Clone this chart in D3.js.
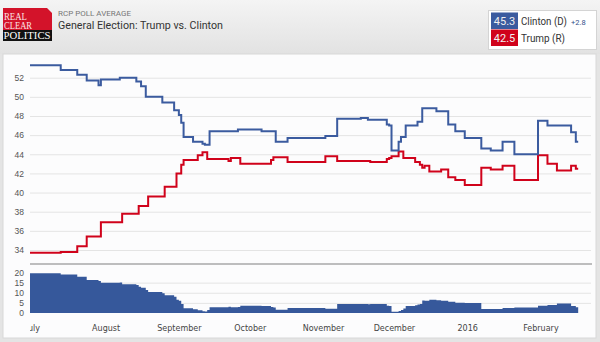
<!DOCTYPE html>
<html>
<head>
<meta charset="utf-8">
<script src="https://cdn.jsdelivr.net/npm/d3@7"></script>
<style>
  body { margin: 0; background: #e4e4e4; }
  svg { display: block; }
</style>
</head>
<body>
<div id="grafico"></div>
<script>
// datos (promedio RCP)
const fechas = ["2015-06-30","2015-07-13","2015-07-20","2015-07-24","2015-07-29","2015-07-30","2015-08-07","2015-08-08",
  "2015-08-14","2015-08-15","2015-08-16","2015-08-18","2015-08-19","2015-08-25","2015-08-26","2015-08-30","2015-08-31",
  "2015-09-01","2015-09-02","2015-09-03","2015-09-07","2015-09-09","2015-09-11","2015-09-12","2015-09-13","2015-09-14",
  "2015-09-22","2015-09-23","2015-09-26","2015-09-27","2015-10-06","2015-10-10","2015-10-11","2015-10-12","2015-10-17",
  "2015-11-02","2015-11-07","2015-11-17","2015-11-20","2015-11-21","2015-11-28","2015-11-29","2015-11-30","2015-12-03",
  "2015-12-04","2015-12-05","2015-12-06","2015-12-10","2015-12-11","2015-12-12","2015-12-13","2015-12-14","2015-12-16",
  "2015-12-19","2015-12-21","2015-12-24","2015-12-27","2015-12-31","2016-01-07","2016-01-11","2016-01-16","2016-01-21",
  "2016-01-31","2016-02-04","2016-02-08","2016-02-14","2016-02-16","2016-02-17"];
const clinton = [53.3,52.8,52.3,51.7,51.2,51.8,52.0,52.0,
  51.6,51.6,51.1,50.0,50.0,49.4,49.4,48.6,48.6,
  48.1,47.3,45.8,45.3,45.3,45.1,45.0,45.0,46.4,
  46.4,46.4,46.6,46.6,46.4,46.4,46.4,45.3,45.7,
  45.9,47.7,47.8,47.6,47.6,47.1,47.0,44.4,45.3,
  45.8,45.8,47.0,47.0,47.4,47.4,48.8,48.8,48.8,
  48.5,48.5,47.1,46.4,45.7,44.6,44.4,45.3,44.0,
  47.5,47.0,47.0,46.3,45.3,45.3];
const trump = [33.7,33.8,34.4,35.4,35.4,36.9,36.9,37.8,
  37.8,38.6,38.6,38.6,39.6,39.6,40.6,40.6,42.0,
  42.0,42.9,43.4,43.4,43.9,44.2,44.2,43.5,43.5,
  43.3,43.6,43.6,43.0,43.0,43.4,43.7,43.7,43.2,
  43.8,43.3,43.3,43.3,43.2,43.5,43.6,43.8,44.3,
  44.3,43.6,43.6,43.2,43.2,42.9,42.6,42.8,42.2,
  42.2,42.4,41.6,41.3,40.8,42.6,42.4,42.8,41.3,
  43.9,43.0,42.3,42.8,42.5,42.5];
const ticksEncuesta = [34,36,38,40,42,44,46,48,50,52];
const ticksMargen = [0,5,10,15,20];
const lineasMargen = [5,10,15];
const mesesFechas = ["2015-07-01","2015-08-01","2015-09-01","2015-10-01","2015-11-01","2015-12-01","2016-01-01","2016-02-01"];
const mesesEtiquetas = ["July","August","September","October","November","December","2016","February"];
const nombres = ["Clinton (D)", "Trump (R)"];

const azul = "#3b5b9f", rojo = "#d0021b";
const parse = d3.timeParse("%Y-%m-%d");
const datos = fechas.map((f, i) => ({ fecha: parse(f), c: clinton[i], t: trump[i] }));

const $svg = d3.select("#grafico").append("svg")
  .attr("width", 600).attr("height", 342)
  .style("font-family", "Roboto, 'Liberation Sans', sans-serif");

const defs = $svg.append("defs");
const grad = defs.append("linearGradient").attr("id", "cabecera")
  .attr("x1", 0).attr("y1", 0).attr("x2", 0).attr("y2", 1);
grad.append("stop").attr("offset", "0%").attr("stop-color", "#f4f4f4");
grad.append("stop").attr("offset", "100%").attr("stop-color", "#e2e2e2");
defs.append("clipPath").attr("id", "recorte").append("rect")
  .attr("x", 30).attr("y", 0).attr("width", 565).attr("height", 342);

// fondo y cabecera
$svg.append("rect").attr("width", 600).attr("height", 342).attr("fill", "#e4e4e4");
$svg.append("rect").attr("width", 600).attr("height", 54).attr("fill", "url(#cabecera)");
$svg.append("rect").attr("x", 3).attr("y", 54).attr("width", 593).attr("height", 284)
  .attr("fill", "#fcfcfd").attr("stroke", "#d8d8d8");

// logo
const logo = $svg.append("g").style("font-family", "'Liberation Serif', 'DejaVu Serif', serif");
logo.append("path").attr("d", "M3,8 H47 L52,13 V30 H3 Z").attr("fill", "#d3132a");
logo.append("rect").attr("x", 3).attr("y", 30).attr("width", 49).attr("height", 11).attr("fill", "#111");
logo.append("text").attr("x", 4).attr("y", 19.5).attr("font-size", 9.5).attr("fill", "#fbe3e5")
  .attr("textLength", 23).attr("lengthAdjust", "spacingAndGlyphs").text("REAL");
logo.append("text").attr("x", 4).attr("y", 28.5).attr("font-size", 9.5).attr("fill", "#fbe3e5")
  .attr("textLength", 28).attr("lengthAdjust", "spacingAndGlyphs").text("CLEAR");
logo.append("text").attr("x", 3.5).attr("y", 39.3).attr("font-size", 10).attr("fill", "#fff")
  .attr("textLength", 47).attr("lengthAdjust", "spacingAndGlyphs").text("POLITICS");

$svg.append("text").attr("x", 58).attr("y", 15.5).attr("font-size", 8).attr("fill", "#777")
  .text("RCP POLL AVERAGE");
$svg.append("text").attr("x", 58).attr("y", 29).attr("font-size", 11.5).attr("fill", "#333")
  .attr("textLength", 165).attr("lengthAdjust", "spacingAndGlyphs")
  .text("General Election: Trump vs. Clinton");

// escalas
const x = d3.scaleTime().domain([parse("2015-06-30"), parse("2016-02-22")]).range([30, 590]);
const y = d3.scaleLinear().domain([34, 52]).range([250, 77.7]);
const yM = d3.scaleLinear().domain([0, 20]).range([313, 272.5]);

// rejilla y eje principal
const ejeY = $svg.append("g").attr("transform", "translate(30,0)")
  .call(d3.axisLeft(y).tickValues(ticksEncuesta).tickSize(-561).tickPadding(6));
ejeY.select(".domain").remove();
ejeY.selectAll("line").attr("stroke", "#e4e4e4");
ejeY.selectAll("text").attr("fill", "#555").attr("font-size", 8.5)
  .style("font-family", "'Liberation Sans', Arial, sans-serif");

// rejilla y eje del margen
const rejM = $svg.append("g").attr("transform", "translate(30,0)")
  .call(d3.axisLeft(yM).tickValues(lineasMargen).tickSize(-561).tickFormat(""));
rejM.select(".domain").remove();
rejM.selectAll("line").attr("stroke", "#e4e4e4");
const ejeM = $svg.append("g").attr("transform", "translate(30,0)")
  .call(d3.axisLeft(yM).tickValues(ticksMargen).tickSize(0).tickPadding(6));
ejeM.select(".domain").remove();
ejeM.selectAll("text").attr("fill", "#555").attr("font-size", 8.5)
  .style("font-family", "'Liberation Sans', Arial, sans-serif");

$svg.append("line").attr("x1", 30).attr("x2", 592).attr("y1", 264).attr("y2", 264)
  .attr("stroke", "#a8a8a8").attr("stroke-width", 1.5);

// area del margen
const area = d3.area().curve(d3.curveStepAfter)
  .x(d => x(d.fecha)).y0(yM(0)).y1(d => yM(d.c - d.t));
$svg.append("path").datum(datos).attr("d", area).attr("fill", "#36589b");

// lineas
const lineaC = d3.line().curve(d3.curveStepAfter).x(d => x(d.fecha)).y(d => y(d.c));
const lineaT = d3.line().curve(d3.curveStepAfter).x(d => x(d.fecha)).y(d => y(d.t));
$svg.append("path").datum(datos).attr("d", lineaT).attr("fill", "none")
  .attr("stroke", rojo).attr("stroke-width", 2);
$svg.append("path").datum(datos).attr("d", lineaC).attr("fill", "none")
  .attr("stroke", azul).attr("stroke-width", 2);

// eje de meses
const ejeX = $svg.append("g").attr("transform", "translate(0,322)")
  .attr("clip-path", "url(#recorte)")
  .call(d3.axisBottom(x).tickValues(mesesFechas.map(parse)).tickSize(0)
    .tickFormat((d, i) => mesesEtiquetas[i]));
ejeX.select(".domain").remove();
ejeX.selectAll("text").attr("fill", "#444").attr("font-size", 8)
  .style("font-family", "'DejaVu Sans', Verdana, sans-serif");

// leyenda
const ultimo = datos[datos.length - 1];
const leyenda = $svg.append("g");
leyenda.append("rect").attr("x", 488.5).attr("y", 10.5).attr("width", 108).attr("height", 39)
  .attr("fill", "#fff").attr("stroke", "#d4d4d4");
[[ultimo.c, azul, 12.5, 46], [ultimo.t, rojo, 29.5, 44]].forEach(([v, col, top, largo], i) => {
  leyenda.append("rect").attr("x", 491).attr("y", top).attr("width", 27).attr("height", 16.5).attr("fill", col);
  leyenda.append("text").attr("x", 504.5).attr("y", top + 12).attr("text-anchor", "middle")
    .attr("font-size", 11).attr("fill", "#f0f0f0").text(v.toFixed(1));
  leyenda.append("text").attr("x", 521).attr("y", top + 12).attr("font-size", 10.5)
    .attr("textLength", largo).attr("lengthAdjust", "spacingAndGlyphs")
    .attr("fill", "#333").text(nombres[i]);
});
leyenda.append("text").attr("x", 571).attr("y", 24.5).attr("font-size", 7.5).attr("fill", "#34508a")
  .text("+" + (ultimo.c - ultimo.t).toFixed(1));
</script>
</body>
</html>
